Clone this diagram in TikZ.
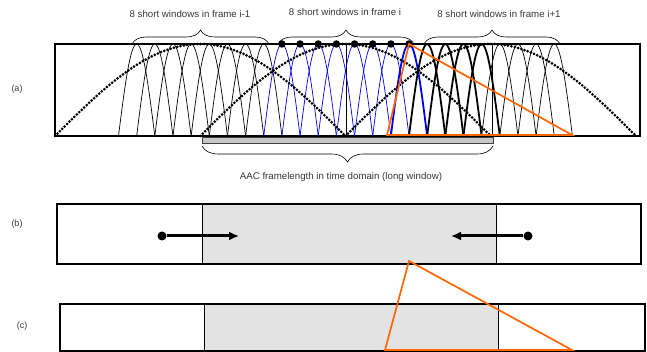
\documentclass[tikz,border=0pt]{standalone}
\usepackage{fontspec}
\setmainfont{Liberation Sans}
\usetikzlibrary{decorations.pathreplacing,arrows.meta}

\definecolor{winblue}{RGB}{0,0,235}
\definecolor{winorange}{RGB}{255,102,0}
\definecolor{txtgray}{RGB}{55,55,55}

\begin{document}
\begin{tikzpicture}
  [
  x=1pt,y=-1pt,
  lbl/.style={font=\fontsize{9.7}{11}\selectfont,text=txtgray,inner sep=0pt},
  tag/.style={font=\fontsize{9}{11}\selectfont,text=txtgray,inner sep=0pt},
  panelbox/.style={draw,line width=1.2pt},
  longwin/.style={line width=3pt,dash pattern=on 0pt off 3.4pt,line cap=round},
  shortwin/.style={line width=0.7pt},
  boldwin/.style={line width=1.8pt},
  shade/.style={fill=gray!22,draw=black!75,line width=0.5pt},
  tri/.style={draw=winorange,line width=1.7pt,line join=miter},
  peak/.style={circle,fill=black,inner sep=0pt,minimum size=7.5pt},
  point/.style={circle,fill=black,inner sep=0pt,minimum size=9pt},
  shiftarrow/.style={line width=3pt,-{Latex[length=10pt,width=9pt]}},
  topbrace/.style={decorate,decoration={brace,amplitude=14pt},line width=0.6pt},
  lowbrace/.style={decorate,decoration={brace,amplitude=16pt,mirror},line width=0.6pt}
  ]
  \useasboundingbox (0,0) rectangle (647,352);

  % (a) long and short windows
  \node (taga) at (17,89) [tag] {(a)};
  \draw [panelbox] (55,44) rectangle (640,136);
  \draw [shade,fill=gray!45] (202,137) rectangle (493,143);
  \draw [line width=0.8pt] (346.5,44) -- (346.5,136);
  \draw [line width=0.8pt] (492,44) -- (492,136);

  \foreach \k in {0,...,7}
    \draw [shortwin] plot [domain=0:1,samples=30] ({118.5+18.16*\k+36.3*\x},{136-92*sin(180*\x)});
  \foreach \k in {0,...,6}
    \draw [shortwin,winblue] plot [domain=0:1,samples=30] ({263.75+18.16*\k+36.3*\x},{136-92*sin(180*\x)});
  \draw [boldwin,winblue] plot [domain=0:1,samples=30] ({263.75+18.16*7+36.3*\x},{136-92*sin(180*\x)});
  \foreach \k in {0,...,3}
    \draw [boldwin] plot [domain=0:1,samples=30] ({409+18.16*\k+36.3*\x},{136-92*sin(180*\x)});
  \foreach \k in {4,...,7}
    \draw [shortwin] plot [domain=0:1,samples=30] ({409+18.16*\k+36.3*\x},{136-92*sin(180*\x)});

  \foreach \s in {55,200.25,345.5}
    \draw [longwin] plot [domain=0:1,samples=90] ({\s+290.5*\x},{136-92*sin(180*\x)});

  \foreach \k in {0,...,7}
    \node (p\k) at ({281.9+18.16*\k},44) [peak] {};

  \draw [tri] (p7.center) -- (387,135) -- (572,135) -- cycle;

  % braces and labels
  \draw [topbrace] (132,44) -- (269,44);
  \draw [topbrace] (278,44) -- (414,44);
  \draw [topbrace] (424,44) -- (560,44);
  \node (prev) at (190,14) [lbl] {8 short windows in frame i-1};
  \node (curr) at (345,12) [lbl] {8 short windows in frame i};
  \node (next) at (499,14) [lbl] {8 short windows in frame i+1};
  \draw [lowbrace] (202,146) -- (493,146);
  \node (aac) at (341,177) [lbl] {AAC framelength in time domain (long window)};

  % (b) overlap
  \node (tagb) at (17,224) [tag] {(b)};
  \draw [shade,draw=none] (202,204) rectangle (496,264);
  \draw [panelbox] (57,204) rectangle (641,264);
  \draw [line width=0.6pt] (202,204) -- (202,264);
  \draw [line width=0.6pt] (496,204) -- (496,264);
  \node (ldot) at (162,236) [point] {};
  \node (rdot) at (528,236) [point] {};
  \coordinate (ltip) at (239,236);
  \coordinate (rtip) at (451,236);
  \draw [shiftarrow] (ldot) -- (ltip);
  \draw [shiftarrow] (rdot) -- (rtip);

  % (c) start window
  \node (tagc) at (22,326) [tag] {(c)};
  \draw [shade,draw=none] (204,304) rectangle (498,351);
  \draw [panelbox] (60,304) rectangle (645,351);
  \draw [line width=0.6pt] (204,304) -- (204,351);
  \draw [line width=1pt] (498,304) -- (498,351);
  \draw [tri] (409,261) -- (385,350) -- (572,350) -- cycle;
\end{tikzpicture}
\end{document}
